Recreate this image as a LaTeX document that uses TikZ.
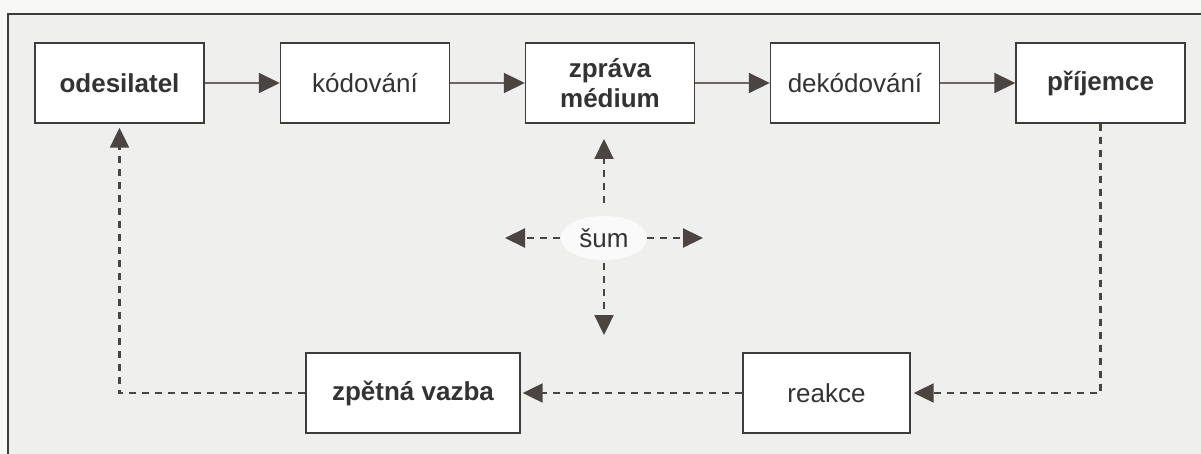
\documentclass[tikz,border=0pt]{standalone}
\usepackage{fontspec}
\setmainfont{Liberation Sans}
\usetikzlibrary{arrows.meta,shapes.geometric}
\definecolor{paper}{HTML}{EFEFED}
\definecolor{margin}{HTML}{F8F8F7}
\definecolor{ink}{HTML}{333333}
\definecolor{frameline}{HTML}{3C3C3C}
\definecolor{flow}{HTML}{6E6464}
\definecolor{head}{HTML}{4A4540}
\tikzset{
  stage/.style={draw=frameline, line width=1.4pt, fill=white, text=ink,
    minimum width=169pt, minimum height=80pt, inner sep=0pt, align=center,
    font=\fontsize{26}{30}\selectfont},
  keystage/.style={stage, font=\fontsize{26}{30}\selectfont\bfseries},
  flowarrow/.style={draw=flow, line width=1.8pt,
    -{Triangle[length=21pt,width=20pt,fill=head,color=head]}},
  backarrow/.style={draw=head, line width=2.2pt, dash pattern=on 7pt off 6pt,
    -{Triangle[length=20pt,width=19pt,fill=head,color=head]}},
}
\begin{document}
\begin{tikzpicture}[x=1pt,y=-1pt]
  \useasboundingbox (0,0) rectangle (1201,454);
  % page and framed panel
  \fill[margin] (0,0) rectangle (1201,454);
  \fill[paper] (8,14) rectangle (1201,454);
  \draw[frameline, line width=1.8pt] (8,454) -- (8,14) -- (1201,14);

  % top row: the message chain
  \node[keystage] (odes) at (119.5,83) {odesilatel};
  \node[stage]    (kod)  at (365,83)   {kódování};
  \node[keystage] (zpr)  at (610,83)   {zpráva\\médium};
  \node[stage]    (dek)  at (855,83)   {dekódování};
  \node[keystage] (prij) at (1100.5,83) {příjemce};

  % bottom row: the response
  \node[keystage, minimum width=214pt] (vazba) at (413,393) {zpětná vazba};
  \node[stage, minimum width=167pt]    (reak)  at (826.5,393) {reakce};

  \draw[flowarrow] (odes) -- (kod);
  \draw[flowarrow] (kod) -- (zpr);
  \draw[flowarrow] (zpr) -- (dek);
  \draw[flowarrow] (dek) -- (prij);

  % feedback loop
  \draw[backarrow, shorten >=3pt] (prij.south) |- (reak.east);
  \draw[backarrow, shorten >=2pt] (reak.west) -- (vazba.east);
  \draw[backarrow, shorten >=4pt] (vazba.west) -| (odes.south);

  % noise acting on the message
  \node[ellipse, fill=white, fill opacity=0.75, text opacity=1,
        inner xsep=6pt, inner ysep=6pt,
        text=ink, font=\fontsize{26}{30}\selectfont] (sum) at (604,238) {šum};
  \coordinate (upA) at (604,203);   \coordinate (upB) at (604,139);
  \coordinate (dnA) at (604,263);   \coordinate (dnB) at (604,335);
  \coordinate (ltA) at (560,238);   \coordinate (ltB) at (505,238);
  \coordinate (rtA) at (647,238);   \coordinate (rtB) at (703,238);
  \draw[backarrow] (upA) -- (upB);
  \draw[backarrow] (dnA) -- (dnB);
  \draw[backarrow] (ltA) -- (ltB);
  \draw[backarrow] (rtA) -- (rtB);
\end{tikzpicture}
\end{document}
